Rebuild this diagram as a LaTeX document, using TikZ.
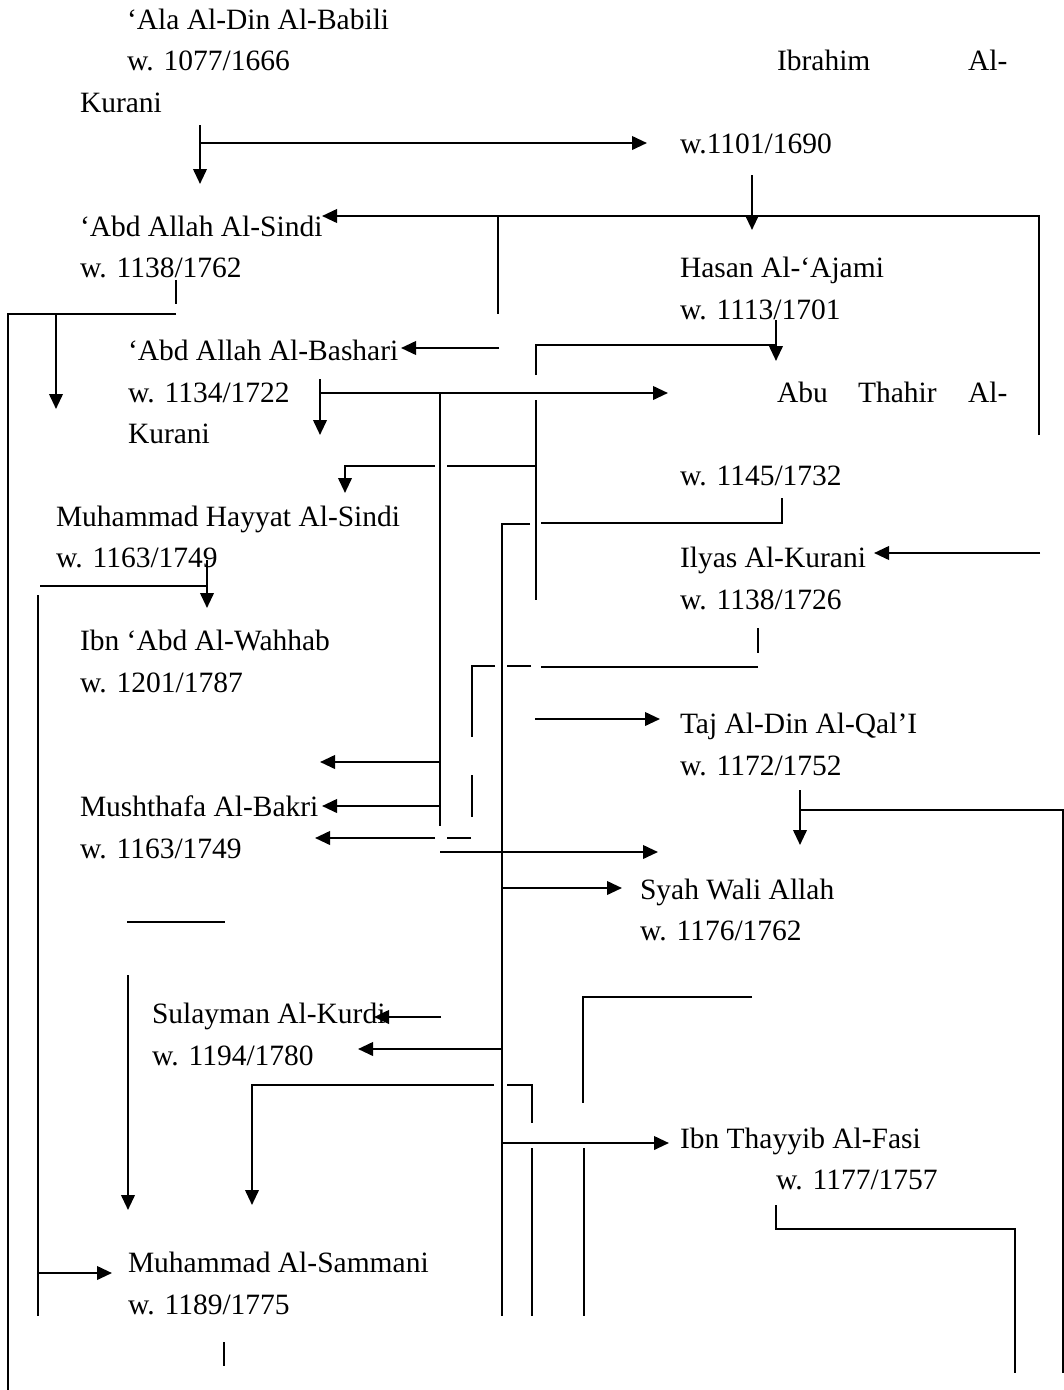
\documentclass[tikz,border=0pt]{standalone}
\usepackage{fontspec}
\setmainfont{Liberation Serif}
\usetikzlibrary{arrows.meta}
\begin{document}
\begin{tikzpicture}[x=1pt,y=-1pt,
  lbl/.style={anchor=base west,inner sep=0pt,outer sep=0pt,font=\fontsize{29.5}{41}\selectfont},
  ln/.style={line width=1.9pt},
  arr/.style={line width=2.3pt,-{Triangle[length=15pt,width=13.5pt]}}]
\useasboundingbox[fill=white] (0,0) rectangle (1064,1390);
% ---------- texts ----------
\node[lbl] (babili)  at (127,29)    {‘Ala Al-Din Al-Babili};
\node[lbl] (babiliw) at (127,70.5)  {w. 1077/1666};
\node[lbl] (ibr1)    at (777,70.5)  {Ibrahim};
\node[lbl] (ibr2)    at (968,70.5)  {Al-};
\node[lbl] (ibr3)    at (80,112)    {Kurani};
\node[lbl] (ibrw)    at (680,153.4) {w.1101/1690};
\node[lbl] (sindi)   at (80,236.3)  {‘Abd Allah Al-Sindi};
\node[lbl] (sindiw)  at (80,277.7)  {w. 1138/1762};
\node[lbl] (hasan)   at (680,277.7) {Hasan Al-‘Ajami};
\node[lbl] (hasanw)  at (680,319.2) {w. 1113/1701};
\node[lbl] (bashari) at (128,360.6) {‘Abd Allah Al-Bashari};
\node[lbl] (basharw) at (128,402.1) {w. 1134/1722};
\node[lbl] (abu1)    at (777,402.1) {Abu};
\node[lbl] (abu2)    at (858,402.1) {Thahir};
\node[lbl] (abu3)    at (968,402.1) {Al-};
\node[lbl] (abu4)    at (128,443.5) {Kurani};
\node[lbl] (abuw)    at (680,485)   {w. 1145/1732};
\node[lbl] (hayyat)  at (56,526.4)  {Muhammad Hayyat Al-Sindi};
\node[lbl] (hayyatw) at (56,567.9)  {w. 1163/1749};
\node[lbl] (ilyas)   at (680,567.9) {Ilyas Al-Kurani};
\node[lbl] (ilyasw)  at (680,609.3) {w. 1138/1726};
\node[lbl] (wahhab)  at (80,650.8)  {Ibn ‘Abd Al-Wahhab};
\node[lbl] (wahhabw) at (80,692.2)  {w. 1201/1787};
\node[lbl] (taj)     at (680,733.7) {Taj Al-Din Al-Qal’I};
\node[lbl] (tajw)    at (680,775.1) {w. 1172/1752};
\node[lbl] (bakri)   at (80,816.6)  {Mushthafa Al-Bakri};
\node[lbl] (bakriw)  at (80,858)    {w. 1163/1749};
\node[lbl] (syah)    at (640,899.5) {Syah Wali Allah};
\node[lbl] (syahw)   at (640,940.9) {w. 1176/1762};
\node[lbl] (kurdi)   at (152,1023.8){Sulayman Al-Kurdi};
\node[lbl] (kurdiw)  at (152,1065.3){w. 1194/1780};
\node[lbl] (fasi)    at (680,1148.2){Ibn Thayyib Al-Fasi};
\node[lbl] (fasiw)   at (776,1189.6){w. 1177/1757};
\node[lbl] (samm)    at (128,1272.5){Muhammad Al-Sammani};
\node[lbl] (sammw)   at (128,1314)  {w. 1189/1775};
% ---------- connectors ----------
\draw[arr] (200,125) -- (200,184);
\draw[arr] (200,143) -- (647,143);
\draw[arr] (752,175) -- (752,230);
\draw[arr] (1039,435) -- (1039,216) -- (322,216);
\draw[ln] (498,216) -- (498,314);
\draw[ln] (176,280) -- (176,304);
\draw[ln] (176,314) -- (8,314) -- (8,1390);
\draw[arr] (56,314) -- (56,409);
\draw[arr] (499,348) -- (401,348);
\draw[arr] (776,320) -- (776,361);
\draw[ln] (536,375) -- (536,345) -- (776,345);
\draw[arr] (320,379) -- (320,435);
\draw[arr] (320,393) -- (668,393);
\draw[ln] (440,393) -- (440,826);
\draw[ln] (536,400) -- (536,600);
\draw[arr] (435,466) -- (345,466) -- (345,493);
\draw[ln] (447,466) -- (536,466);
\draw[ln] (782,498) -- (782,523) -- (541,523);
\draw[ln] (530,524) -- (502,524) -- (502,1316);
\draw[arr] (1040,553) -- (874,553);
\draw[ln] (758,628) -- (758,653);
\draw[ln] (758,667) -- (541,667);
\draw[ln] (531,666) -- (507,666);
\draw[ln] (495,666) -- (472,666) -- (472,737);
\draw[ln] (472,775) -- (472,817);
\draw[arr] (207,560) -- (207,608);
\draw[ln] (40,586) -- (207,586);
\draw[ln] (38,595) -- (38,1316);
\draw[arr] (535,719) -- (660,719);
\draw[arr] (440,762) -- (320,762);
\draw[arr] (440,806) -- (322,806);
\draw[ln] (471,838) -- (447,838);
\draw[arr] (435,838) -- (315,838);
\draw[arr] (440,852) -- (658,852);
\draw[arr] (502,888) -- (622,888);
\draw[arr] (800,790) -- (800,845);
\draw[ln] (800,810) -- (1063,810) -- (1063,1373);
\draw[ln] (127,922) -- (225,922);
\draw[arr] (128,975) -- (128,1210);
\draw[ln] (752,997) -- (583,997) -- (583,1103);
\draw[arr] (441,1017) -- (374,1017);
\draw[arr] (502,1049) -- (358,1049);
\draw[arr] (494,1085) -- (252,1085) -- (252,1205);
\draw[ln] (507,1085) -- (532,1085) -- (532,1123);
\draw[arr] (502,1143) -- (669,1143);
\draw[ln] (532,1148) -- (532,1316);
\draw[ln] (584,1148) -- (584,1316);
\draw[ln] (776,1205) -- (776,1229) -- (1015,1229) -- (1015,1373);
\draw[arr] (38,1273) -- (112,1273);
\draw[ln] (224,1342) -- (224,1366);
\end{tikzpicture}
\end{document}
